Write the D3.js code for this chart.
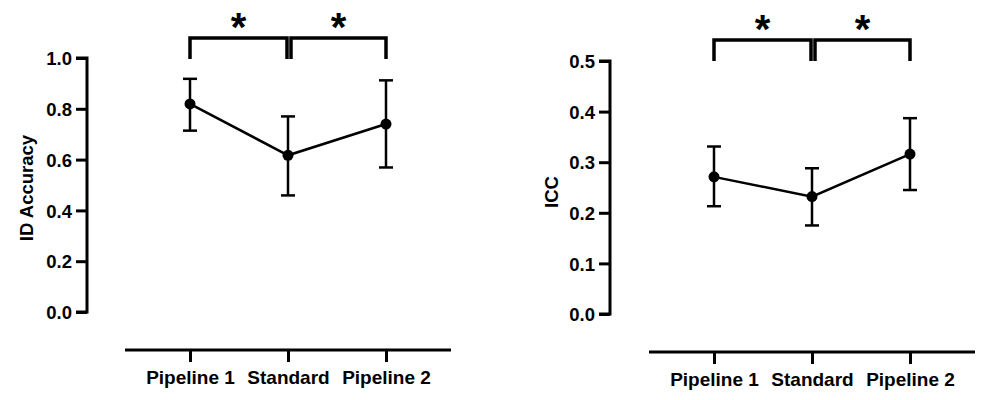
<!DOCTYPE html>
<html><head><meta charset="utf-8">
<script src="https://cdn.jsdelivr.net/npm/d3@7"></script>
<style>
body{margin:0;background:#fff;}
text{font-family:"Liberation Sans",Arial,sans-serif;font-weight:bold;fill:#000;}
</style></head>
<body><svg id="chart" width="982" height="400"></svg>
<script>
const categories = ["Pipeline 1", "Standard", "Pipeline 2"];
const accMean = [0.819, 0.617, 0.740];
const accLow  = [0.714, 0.459, 0.569];
const accHigh = [0.918, 0.770, 0.912];
const accTicks = [0.0, 0.2, 0.4, 0.6, 0.8, 1.0];
const iccMean = [0.271, 0.232, 0.316];
const iccLow  = [0.213, 0.175, 0.245];
const iccHigh = [0.331, 0.288, 0.387];
const iccTicks = [0.0, 0.1, 0.2, 0.3, 0.4, 0.5];
const sigPairs = [[0, 1], [1, 2]];

const svg = d3.select("#chart");
const FONT = "Liberation Sans, Arial, sans-serif";

function panel(cfg) {
  const g = svg.append("g");
  const y = d3.scaleLinear().domain(cfg.domain).range([cfg.y0, cfg.y1]);
  const x = d3.scalePoint().domain(categories).range([cfg.xa, cfg.xc]);

  // y axis
  const ya = g.append("g").attr("transform", `translate(${cfg.yAxisX},0)`)
    .call(d3.axisLeft(y).tickValues(cfg.ticks).tickFormat(d3.format(".1f")).tickSize(11).tickPadding(4));
  ya.select(".domain").attr("stroke-width", 3).attr("d", `M-11,${y(cfg.domain[1])}H0V${y(cfg.domain[0])}H-11`);
  ya.selectAll(".tick line").attr("stroke-width", 3);
  ya.selectAll(".tick text").attr("font-size", 18.5).attr("font-family", FONT).attr("font-weight", "bold").attr("dy", "0.36em");

  // x axis
  const xa = g.append("g").attr("transform", `translate(0,${cfg.xAxisY})`)
    .call(d3.axisBottom(x).tickSize(12).tickPadding(9));
  xa.select(".domain").attr("stroke-width", 3).attr("d", `M${cfg.xLineL},0H${cfg.xLineR}`);
  xa.selectAll(".tick line").attr("stroke-width", 3);
  xa.selectAll(".tick text").attr("font-size", 19).attr("font-family", FONT).attr("font-weight", "bold");

  // y label
  g.append("text").attr("transform", `translate(${cfg.labelX},${cfg.labelY}) rotate(-90)`)
    .attr("text-anchor", "middle").attr("dy", "0.35em").attr("font-size", 18.5).text(cfg.label);

  const pts = categories.map((c, i) => ({c, m: cfg.mean[i], lo: cfg.low[i], hi: cfg.high[i]}));

  // error bars
  const eb = g.selectAll(".eb").data(pts).enter().append("g");
  eb.append("line").attr("x1", d => x(d.c)).attr("x2", d => x(d.c))
    .attr("y1", d => y(d.lo)).attr("y2", d => y(d.hi)).attr("stroke", "#000").attr("stroke-width", 2.5);
  eb.append("line").attr("x1", d => x(d.c) - 7).attr("x2", d => x(d.c) + 7)
    .attr("y1", d => y(d.hi)).attr("y2", d => y(d.hi)).attr("stroke", "#000").attr("stroke-width", 2.5);
  eb.append("line").attr("x1", d => x(d.c) - 7).attr("x2", d => x(d.c) + 7)
    .attr("y1", d => y(d.lo)).attr("y2", d => y(d.lo)).attr("stroke", "#000").attr("stroke-width", 2.5);

  // line
  g.append("path").datum(pts).attr("fill", "none").attr("stroke", "#000").attr("stroke-width", 2.5)
    .attr("d", d3.line().x(d => x(d.c)).y(d => y(d.m)));
  g.selectAll(".dot").data(pts).enter().append("circle")
    .attr("cx", d => x(d.c)).attr("cy", d => y(d.m)).attr("r", 5.5).attr("fill", "#000");

  // significance brackets
  sigPairs.forEach(([a, b], k) => {
    const xa0 = x(categories[a]) + (k === 1 ? 3 : 0);
    const xb0 = x(categories[b]) - (k === 0 ? 1 : 0);
    g.append("path").attr("fill", "none").attr("stroke", "#000").attr("stroke-width", 3.5)
      .attr("d", `M${xa0},${cfg.brLeg}V${cfg.brTop}H${xb0}V${cfg.brLeg}`);
    g.append("text").attr("x", (xa0 + xb0) / 2).attr("y", cfg.starY)
      .attr("text-anchor", "middle").attr("font-size", 40).text("*");
  });
}

panel({domain: [0, 1], ticks: accTicks, mean: accMean, low: accLow, high: accHigh,
  y0: 312, y1: 58, yAxisX: 87, xa: 190, xc: 386, xAxisY: 350, xLineL: 125, xLineR: 451,
  label: "ID Accuracy", labelX: 27, labelY: 188, brTop: 38, brLeg: 59, starY: 41});
panel({domain: [0, 0.5], ticks: iccTicks, mean: iccMean, low: iccLow, high: iccHigh,
  y0: 314, y1: 61, yAxisX: 610, xa: 714, xc: 910, xAxisY: 352, xLineL: 649, xLineR: 975,
  label: "ICC", labelX: 552, labelY: 192, brTop: 40, brLeg: 61, starY: 43});
</script></body></html>
